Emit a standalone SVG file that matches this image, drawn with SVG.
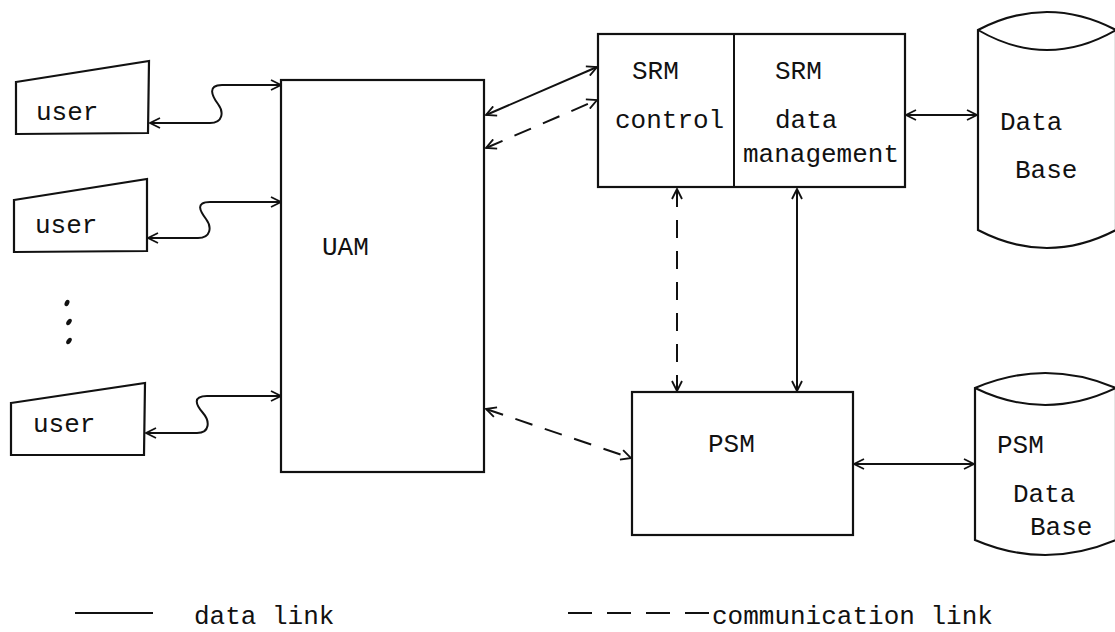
<svg xmlns="http://www.w3.org/2000/svg" width="1115" height="632" viewBox="0 0 1115 632">
<defs>
<style>
.sh{fill:#fff;stroke:#111;stroke-width:2.2;stroke-linejoin:miter}
.ln{fill:none;stroke:#111;stroke-width:2}
.da{stroke-dasharray:18 13}
.t{font-family:"Liberation Mono","DejaVu Sans Mono",monospace;font-size:26px;fill:#111}
.lg{font-family:"Liberation Mono","DejaVu Sans Mono",monospace;font-size:26px;fill:#111}
</style>
<marker id="a" viewBox="0 0 12 12" refX="11" refY="6" markerWidth="12" markerHeight="12" markerUnits="userSpaceOnUse" orient="auto-start-reverse">
<path d="M1,1 L11,6 L1,11" fill="none" stroke="#111" stroke-width="1.8"/>
</marker>
</defs>
<rect width="1115" height="632" fill="#fff"/>

<g id="user1">
<path class="sh" d="M16,82 L149,61 L148,133 L16,134 Z"/>
<text class="t" x="36" y="120">user</text>
</g>
<g id="user2">
<path class="sh" d="M14,200 L147,179 L147,251 L14,252 Z"/>
<text class="t" x="35" y="233">user</text>
</g>
<g id="user3">
<path class="sh" d="M11,403 L145,383 L144,455 L11,455 Z"/>
<text class="t" x="33" y="432">user</text>
</g>
<g id="dots">
<ellipse cx="67" cy="303" rx="2.2" ry="3.4" transform="rotate(25 67 303)" fill="#111"/>
<ellipse cx="69" cy="322" rx="2.2" ry="3.6" transform="rotate(35 69 322)" fill="#111"/>
<ellipse cx="69" cy="341" rx="2.2" ry="3.6" transform="rotate(35 69 341)" fill="#111"/>
</g>

<g id="uam">
<rect class="sh" x="281" y="80" width="203" height="392"/>
<text class="t" x="322" y="255">UAM</text>
</g>

<g id="srm">
<rect class="sh" x="598" y="34" width="307" height="153"/>
<line class="ln" x1="734" y1="34" x2="734" y2="187" stroke-width="2.2"/>
<text class="t" x="632" y="79">SRM</text>
<text class="t" x="615" y="128">control</text>
<text class="t" x="775" y="79">SRM</text>
<text class="t" x="775" y="128">data</text>
<text class="t" x="743" y="162">management</text>
</g>

<g id="psm">
<rect class="sh" x="632" y="392" width="221" height="143"/>
<text class="t" x="708" y="452">PSM</text>
</g>

<g id="database">
<path class="sh" d="M978,30 L978,230 Q1047,266 1116,230 L1116,30 Q1047,-6 978,30 Z"/>
<path class="ln" stroke-width="2.2" d="M978,30 Q1047,70 1116,30"/>
<text class="t" x="1000" y="130">Data</text>
<text class="t" x="1015" y="178">Base</text>
</g>

<g id="psmdatabase">
<path class="sh" d="M975,388 L975,540 Q1045,570 1116,540 L1116,388 Q1045,358 975,388 Z"/>
<path class="ln" stroke-width="2.2" d="M975,388 Q1045,422 1116,388"/>
<text class="t" x="997" y="453">PSM</text>
<text class="t" x="1013" y="502">Data</text>
<text class="t" x="1030" y="535">Base</text>
</g>

<g id="connectors">
<path class="ln" marker-start="url(#a)" marker-end="url(#a)" d="M150,123 L210,123 C223,123 224,112 218,104 C212,96 207,85 222,85 L281,85"/>
<path class="ln" marker-start="url(#a)" marker-end="url(#a)" d="M148,238 L198,238 C211,238 212,227 206,219 C200,211 195,202 210,202 L281,202"/>
<path class="ln" marker-start="url(#a)" marker-end="url(#a)" d="M146,433 L197,433 C210,433 210,421 203,413 C196,405 192,396 207,396 L281,396"/>
<line class="ln" marker-start="url(#a)" marker-end="url(#a)" x1="486" y1="115" x2="597" y2="67"/>
<line class="ln da" marker-start="url(#a)" marker-end="url(#a)" x1="486" y1="148" x2="597" y2="100"/>
<line class="ln da" marker-start="url(#a)" marker-end="url(#a)" x1="677" y1="189" x2="677" y2="391"/>
<line class="ln" marker-start="url(#a)" marker-end="url(#a)" x1="797" y1="189" x2="797" y2="391"/>
<line class="ln da" marker-start="url(#a)" marker-end="url(#a)" x1="486" y1="409" x2="631" y2="458"/>
<line class="ln" marker-start="url(#a)" marker-end="url(#a)" x1="906" y1="115" x2="977" y2="115"/>
<line class="ln" marker-start="url(#a)" marker-end="url(#a)" x1="854" y1="464" x2="974" y2="464"/>
</g>

<g id="legend">
<line class="ln" x1="75" y1="613" x2="153" y2="613"/>
<text class="lg" x="194" y="624">data link</text>
<line class="ln" x1="568" y1="613" x2="709" y2="613" stroke-dasharray="24 15"/>
<text class="lg" x="712" y="624">communication link</text>
</g>
</svg>
